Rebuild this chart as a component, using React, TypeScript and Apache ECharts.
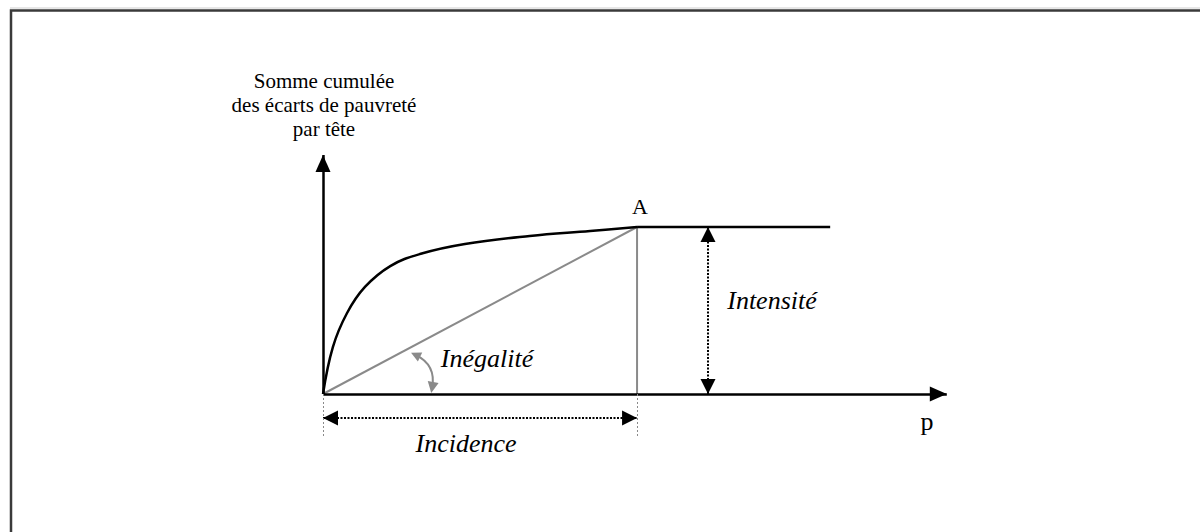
import React, { useEffect, useRef } from "react";
import * as echarts from "echarts";

// ---- Data (TIP curve: cumulated per-capita poverty gaps vs p) ----
const curveX = [0, 0.016, 0.039, 0.068, 0.109, 0.157, 0.23, 0.335, 0.433, 0.509];
const curveY = [0, 0.281, 0.485, 0.641, 0.766, 0.838, 0.898, 0.946, 0.976, 1.0];
const headcount = 0.509; // Incidence (point A abscissa)
const intensity = 1.0; // Intensité (point A ordinate)
const plateauEnd = 0.822;
const xAxisEnd = 1.011;
const yAxisEnd = 1.431;
const intensityArrowX = 0.624;
const incidenceArrowY = -0.144;
const guideBottom = -0.26;
const inequalityArcFrom = [0.15, 0.234];
const inequalityArcTo = [0.177, 0.039];

const yLabelLines = ["Somme cumulée", "des écarts de pauvreté", "par tête"];

const SERIF = "Liberation Serif";
const GRAY = "#8a8a8a";

export default function App() {
  const ref = useRef<HTMLDivElement>(null);

  useEffect(() => {
    if (!ref.current) return;
    const chart = echarts.init(ref.current, undefined, { renderer: "svg" });

    const tipOffset = [[0, "50%"], [0, "50%"]];
    const noLabel = { show: false };

    const txt = (text: string, x: number, y: number, size: number, italic: boolean, extra: any = {}) => ({
      type: "text",
      silent: true,
      x,
      y,
      style: {
        text,
        fontFamily: SERIF,
        fontSize: size,
        fontStyle: italic ? "italic" : "normal",
        fill: "#000",
        textAlign: "center",
        textVerticalAlign: "middle",
        ...extra,
      },
    });

    const option: any = {
      animation: false,
      backgroundColor: "#ffffff",
      textStyle: { fontFamily: SERIF },
      grid: { left: 323, right: 1200 - 323 - 1.05 * 617, top: 394 - 1.45 * 167, bottom: 532 - (394 + 0.6 * 167) },
      xAxis: { type: "value", min: 0, max: 1.05, show: false },
      yAxis: { type: "value", min: -0.6, max: 1.45, show: false },
      series: [
        {
          name: "TIP",
          type: "line",
          data: curveX.map((x, i) => [x, curveY[i]]),
          showSymbol: false,
          smooth: 0.4,
          lineStyle: { color: "#000", width: 2.5 },
          silent: true,
          z: 5,
        },
        {
          name: "plateau",
          type: "line",
          data: [
            [headcount, intensity],
            [plateauEnd, intensity],
          ],
          showSymbol: false,
          lineStyle: { color: "#000", width: 2.5 },
          silent: true,
          z: 5,
        },
        {
          name: "diagonal",
          type: "line",
          data: [
            [0, 0],
            [headcount, intensity],
          ],
          showSymbol: false,
          lineStyle: { color: GRAY, width: 2 },
          silent: true,
          z: 4,
        },
        {
          name: "vertical",
          type: "line",
          data: [
            [headcount, 0],
            [headcount, intensity],
          ],
          showSymbol: false,
          lineStyle: { color: GRAY, width: 2 },
          silent: true,
          z: 4,
        },
        {
          name: "axes",
          type: "line",
          data: [],
          silent: true,
          z: 6,
          markLine: {
            silent: true,
            animation: false,
            symbol: ["none", "triangle"],
            symbolSize: [15, 17],
            symbolOffset: tipOffset,
            label: noLabel,
            lineStyle: { color: "#000", width: 2.5, type: "solid" },
            emphasis: { disabled: true },
            data: [
              [{ coord: [0, 0] }, { coord: [0, yAxisEnd] }],
              [{ coord: [0, 0] }, { coord: [xAxisEnd, 0] }],
            ],
          },
        },
        {
          name: "measures",
          type: "line",
          data: [],
          silent: true,
          z: 6,
          markLine: {
            silent: true,
            animation: false,
            symbol: ["triangle", "triangle"],
            symbolSize: [15, 15],
            symbolOffset: tipOffset,
            label: noLabel,
            lineStyle: { color: "#000", width: 2, type: [2, 1.5] },
            emphasis: { disabled: true },
            data: [
              [{ coord: [intensityArrowX, 0] }, { coord: [intensityArrowX, intensity] }],
              [{ coord: [0, incidenceArrowY] }, { coord: [headcount, incidenceArrowY] }],
            ],
          },
        },
        {
          name: "guides",
          type: "line",
          data: [],
          silent: true,
          z: 3,
          markLine: {
            silent: true,
            animation: false,
            symbol: ["none", "none"],
            label: noLabel,
            lineStyle: { color: GRAY, width: 1, type: [2, 2] },
            emphasis: { disabled: true },
            data: [
              [{ coord: [0, 0] }, { coord: [0, guideBottom] }],
              [{ coord: [headcount, 0] }, { coord: [headcount, guideBottom] }],
            ],
          },
        },
        {
          name: "inequality",
          type: "lines",
          coordinateSystem: "cartesian2d",
          silent: true,
          z: 6,
          symbol: ["triangle", "triangle"],
          symbolSize: [10, 11],
          lineStyle: { color: GRAY, width: 2, type: "solid", curveness: 0.38, opacity: 1 },
          emphasis: { disabled: true },
          data: [{ coords: [inequalityArcFrom, inequalityArcTo] }],
        },
      ],
      graphic: [
        {
          type: "rect",
          silent: true,
          shape: { x: 11, y: 10.5, width: 1250, height: 600 },
          style: { fill: "none", stroke: "#3a3a3a", lineWidth: 2.5 },
        },
        {
          type: "line",
          silent: true,
          shape: { x1: 10, y1: 8, x2: 1200, y2: 8 },
          style: { stroke: "#cfcfcf", lineWidth: 1 },
        },
        txt(yLabelLines.join("\n"), 324, 69, 21, false, { lineHeight: 24, textVerticalAlign: "top" }),
        txt("A", 640, 206.5, 22, false),
        txt("Intensité", 772, 300, 26, true),
        txt("Inégalité", 487, 358.5, 26, true),
        txt("Incidence", 466, 443, 26, true),
        txt("p", 927, 421, 26, false),
      ],
    };

    chart.setOption(option);
    return () => chart.dispose();
  }, []);

  return (
    <div
      ref={ref}
      style={{ position: "absolute", left: 0, top: 0, width: 1200, height: 532, background: "#fff" }}
    />
  );
}
